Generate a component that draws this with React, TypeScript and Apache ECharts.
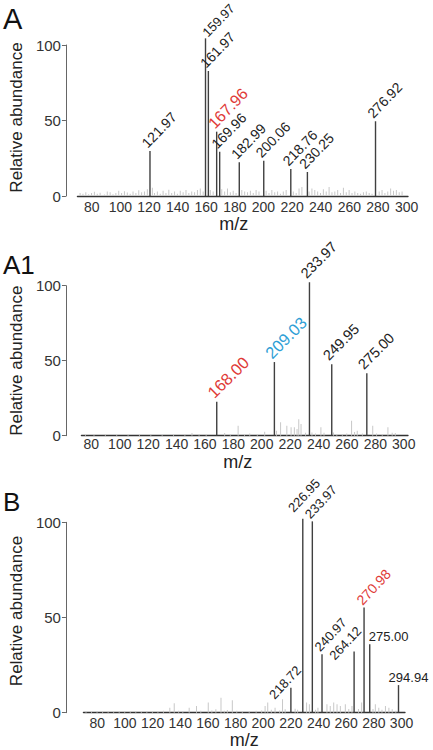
import React, { useEffect, useRef } from "react";
import * as echarts from "echarts";

const FONT = "'Liberation Sans', Arial, Helvetica, sans-serif";

// Shared axis ticks
const xTickValues = [80, 100, 120, 140, 160, 180, 200, 220, 240, 260, 280, 300];
const yInterval = 50;

// ---------- Panel A ----------
const aPeakMz = [120.7, 159.5, 161.5, 167.3, 169.4, 183.1, 200.2, 219.1, 230.7, 278.3];
const aPeakAbund = [29.8, 104.4, 82.8, 42.6, 29.3, 22.3, 23.4, 17.9, 15.9, 49.5];
const aPeakLabels = ["121.97", "159.97", "161.97", "167.96", "169.96", "182.99", "200.06", "218.76", "230.25", "276.92"];
const aHighlightRed = ["167.96"];
const aNoise: [number, number][] = [
  [72, 2], [74, 1.5], [76, 2.5], [78, 1.2], [80, 2], [82, 2.8], [84, 1.5], [86, 2.2],
  [89, 1], [91, 3], [93, 2.5], [95, 1.2], [97, 2], [99, 3.5], [101, 2], [103, 3.2],
  [105, 2.4], [107, 1.5], [109, 3], [111, 2], [113, 3.8], [115, 2.5], [117, 3], [119, 4.5],
  [122.5, 5.5], [124, 2], [126, 3], [128, 1.5], [130, 3.5], [132, 2], [134, 4.2], [136, 2],
  [138, 3], [140, 1.5], [142, 3.5], [144, 2.5], [146, 4], [148, 2], [150, 3], [152, 2.5],
  [154, 4], [156, 5], [158, 3], [163, 4], [165, 3], [171, 4.5], [173, 3], [175, 5],
  [177, 2.5], [179, 3.5], [181, 2], [185, 4], [187, 3], [189, 2.5], [191, 3.5], [193, 2],
  [195, 4], [197, 3], [202, 3.5], [204, 2], [206, 4], [208, 2.5], [210, 3], [212, 1.5],
  [214, 3], [216, 4], [221, 3], [223, 2], [225, 5], [227, 6], [232, 3], [234, 5],
  [236, 4], [238, 3], [240, 2], [242, 4.5], [244, 3], [246, 6], [248, 2.5], [250, 3],
  [252, 4], [254, 2], [256, 5.5], [258, 2.5], [260, 4], [262, 2], [264, 3], [266, 2],
  [268, 1.5], [270, 2.5], [272, 3], [274, 2], [276, 1.5], [281, 3], [283, 4], [285, 2],
  [287, 3], [289, 5], [291, 3.5], [293, 4], [295, 2.5], [297, 3],
];

// ---------- Panel A1 ----------
const a1PeakMz = [168.3, 208.9, 233.6, 249.3, 274.0];
const a1PeakAbund = [22.7, 49.1, 102.3, 47.6, 41.6];
const a1PeakLabels = ["168.00", "209.03", "233.97", "249.95", "275.00"];
const a1HighlightRed = ["168.00"];
const a1HighlightBlue = ["209.03"];
const a1Noise: [number, number][] = [
  [76, 0.6], [82, 0.5], [90, 0.7], [98, 0.5], [106, 0.6], [114, 0.5], [122, 0.6], [130, 0.5],
  [138, 0.7], [146, 1.2], [151, 1.8], [156, 1.0], [161, 1.2], [174, 1.8], [178, 0.8], [183.5, 6.7],
  [188, 1], [191.7, 1.5], [197, 1.2], [202.2, 2.7], [210.5, 3.3], [213.4, 9], [217.8, 6.7], [220.8, 5.6],
  [223.1, 5.6], [225, 4.5], [226.2, 11], [227.8, 7.8], [231, 2], [235.5, 2.2], [238, 1.5], [241.8, 5.6],
  [244, 2], [250.6, 2.2], [253, 1.2], [256.9, 1.1], [260, 1.5], [263.4, 10], [265.5, 2.5], [267.4, 3.3],
  [271, 1.5], [278.3, 6.7], [281, 1.5], [285, 1.2], [289, 5.6], [292, 2], [294.2, 1.8],
];

// ---------- Panel B ----------
const bPeakMz = [220.0, 228.6, 235.5, 242.5, 265.7, 272.9, 277.0, 297.8];
const bPeakAbund = [13.1, 101.8, 100.5, 30.7, 32.2, 55.2, 36.0, 14.5];
const bPeakLabels = ["218.72", "226.95", "233.97", "240.97", "264.12", "270.98", "275.00", "294.94"];
const bHighlightRed = ["270.98"];
const bNoise: [number, number][] = [
  [72, 0.6], [76, 0.5], [80, 0.8], [84, 0.5], [88, 0.7], [92, 0.5], [96, 0.6], [100, 0.8],
  [104, 0.5], [108, 0.6], [112, 0.5], [116, 0.7], [120, 0.6], [124, 0.8], [128, 1.0], [132.6, 2.6],
  [135.8, 4.9], [139, 1], [142, 0.8], [146.6, 2.6], [151.9, 3.5], [155, 1], [160.4, 5.3], [163, 1.2],
  [165.9, 1.8], [169.6, 7.9], [172, 1], [174.2, 1.4], [177.8, 6.6], [181, 1], [185, 0.8], [190, 0.7],
  [195, 1], [199, 1.2], [201.5, 3.5], [203.4, 5.3], [206, 1.5], [208.7, 2.6], [212, 1.2], [214.1, 7],
  [216, 1.8], [223.2, 2.1], [225, 1.5], [231.5, 5.3], [233.5, 4.4], [238, 1.5], [239.7, 2.6], [246.2, 4.4],
  [248.6, 3.5], [251.1, 5.3], [253.5, 4.4], [255.9, 3.5], [259.5, 4.4], [262, 2], [264.3, 3.5], [269, 2],
  [271.3, 5.3], [279.5, 2], [281.2, 4.4], [283.7, 2.6], [286, 1.5], [288.5, 3.5], [291, 2.6], [293.4, 1.8],
  [296, 1],
];

const RED = "#e03a37";
const BLUE = "#2f9fd6";
const TEXT = "#222";

type PanelCfg = {
  grid: { left: number; top: number; width: number; height: number };
  xMin: number;
  xMax: number;
  yOffset: number;
  xLabelMargin: number;
  xNameGap: number;
  xNamePadRight: number;
  yNamePadLeft: number;
  peakMz: number[];
  peakAbund: number[];
  peakLabels: string[];
  noise: [number, number][];
  rotate: number;
  labelOffset: number[];
  labelSize: number;
  colored: Record<string, string>;
  coloredSize: number;
  overrides: Record<string, any>;
};

function buildPanel(i: number, c: PanelCfg) {
  const grid = { ...c.grid, containLabel: false };
  const xAxis = {
    type: "value",
    gridIndex: i,
    min: c.xMin,
    max: c.xMax,
    axisLine: { show: true, onZero: false, lineStyle: { color: "#333", width: 1.3 } },
    axisTick: { show: false },
    splitLine: { show: false },
    axisLabel: {
      customValues: xTickValues,
      margin: c.xLabelMargin,
      fontSize: 14,
      color: "#333",
      fontFamily: FONT,
    },
    name: "m/z",
    nameLocation: "middle",
    nameGap: c.xNameGap,
    nameTextStyle: { fontSize: 18, color: TEXT, fontFamily: FONT, padding: [0, c.xNamePadRight, 0, 0] },
  };
  const yAxis = {
    type: "value",
    gridIndex: i,
    min: 0,
    max: 100,
    interval: yInterval,
    offset: c.yOffset,
    axisLine: { show: true, lineStyle: { color: "#666", width: 1 } },
    axisTick: { show: true, length: 4, lineStyle: { color: "#666" } },
    splitLine: { show: false },
    axisLabel: { margin: 5, fontSize: 15, color: "#333", fontFamily: FONT },
    name: "Relative abundance",
    nameLocation: "middle",
    nameGap: 25,
    nameRotate: 90,
    nameTextStyle: { fontSize: 17, color: TEXT, fontFamily: FONT, padding: [0, 0, 0, c.yNamePadLeft] },
  };
  const noiseSeries = {
    type: "bar",
    xAxisIndex: i,
    yAxisIndex: i,
    data: c.noise.map((d) => [d[0], d[1]]),
    barWidth: 1,
    barGap: "-100%",
    itemStyle: { color: "#c8c8c8" },
    silent: true,
    clip: false,
    z: 1,
  };
  const peakSeries = {
    type: "bar",
    xAxisIndex: i,
    yAxisIndex: i,
    barWidth: 1.4,
    barGap: "-100%",
    clip: false,
    z: 2,
    itemStyle: { color: "#404040" },
    label: {
      show: true,
      position: "top",
      rotate: c.rotate,
      align: "left",
      verticalAlign: "middle",
      distance: 3,
      offset: c.labelOffset,
      fontSize: c.labelSize,
      color: TEXT,
      fontFamily: FONT,
      formatter: (p: any) => c.peakLabels[p.dataIndex],
    },
    data: c.peakMz.map((mz, j) => {
      const lbl = c.peakLabels[j];
      const label: any = { ...(c.overrides[lbl] || {}) };
      if (c.colored[lbl]) {
        label.color = c.colored[lbl];
        label.fontSize = c.coloredSize;
      }
      return { value: [mz, c.peakAbund[j]], label };
    }),
  };
  return { grid, xAxis, yAxis, series: [noiseSeries, peakSeries] };
}

function colorMap(red: string[], blue: string[] = []) {
  const m: Record<string, string> = {};
  red.forEach((r) => (m[r] = RED));
  blue.forEach((b) => (m[b] = BLUE));
  return m;
}

export default function App() {
  const ref = useRef<HTMLDivElement>(null);
  useEffect(() => {
    if (!ref.current) return;
    const chart = echarts.init(ref.current, null, { renderer: "svg" });
    const panels = [
      buildPanel(0, {
        grid: { left: 76, top: 45, width: 332, height: 151 },
        xMin: 70,
        xMax: 301,
        yOffset: 11.5,
        xLabelMargin: 4,
        xNameGap: 16,
        xNamePadRight: 18,
        yNamePadLeft: 6,
        peakMz: aPeakMz,
        peakAbund: aPeakAbund,
        peakLabels: aPeakLabels,
        noise: aNoise,
        rotate: 46,
        labelOffset: [-2, -6],
        labelSize: 14,
        colored: colorMap(aHighlightRed),
        coloredSize: 16,
        overrides: {
          "159.97": { offset: [0, -1], fontSize: 13 },
        },
      }),
      buildPanel(1, {
        grid: { left: 80, top: 285.7, width: 328, height: 150 },
        xMin: 73,
        xMax: 303,
        yOffset: 15.5,
        xLabelMargin: 1,
        xNameGap: 17,
        xNamePadRight: 14,
        yNamePadLeft: 0,
        peakMz: a1PeakMz,
        peakAbund: a1PeakAbund,
        peakLabels: a1PeakLabels,
        noise: a1Noise,
        rotate: 45,
        labelOffset: [-2, -7],
        labelSize: 14.5,
        colored: colorMap(a1HighlightRed, a1HighlightBlue),
        coloredSize: 16.5,
        overrides: {},
      }),
      buildPanel(2, {
        grid: { left: 82, top: 522.3, width: 323, height: 190.4 },
        xMin: 70,
        xMax: 302.5,
        yOffset: 17.5,
        xLabelMargin: 3,
        xNameGap: 12,
        xNamePadRight: 0,
        yNamePadLeft: 13,
        peakMz: bPeakMz,
        peakAbund: bPeakAbund,
        peakLabels: bPeakLabels,
        noise: bNoise,
        rotate: 47,
        labelOffset: [-2, -5],
        labelSize: 13,
        colored: colorMap(bHighlightRed),
        coloredSize: 14,
        overrides: {
          "218.72": { align: "center", distance: 0, offset: [0, -8] },
          "226.95": { offset: [-4, -13] },
          "264.12": { align: "center", distance: 0, offset: [0, -12] },
          "275.00": { rotate: 0, align: "left", verticalAlign: "bottom", distance: 1, offset: [-1, 0] },
          "294.94": { rotate: 0, align: "center", verticalAlign: "bottom", distance: 1, offset: [10, 0] },
        },
      }),
    ];
    const letterStyle = (text: string, x: number, y: number, size: number) => ({
      type: "text",
      silent: true,
      style: {
        text,
        x,
        y,
        fontSize: size,
        fontFamily: FONT,
        fill: "#111",
        align: "left",
        verticalAlign: "middle",
      },
    });
    chart.setOption({
      animation: false,
      backgroundColor: "#fff",
      textStyle: { fontFamily: FONT },
      grid: panels.map((p) => p.grid),
      xAxis: panels.map((p) => p.xAxis),
      yAxis: panels.map((p) => p.yAxis),
      series: panels.flatMap((p) => p.series),
      graphic: [
        letterStyle("A", 3, 18.5, 29),
        letterStyle("A1", 3, 264.5, 26),
        letterStyle("B", 3, 501.5, 26),
      ],
    } as any);
    return () => chart.dispose();
  }, []);
  return (
    <div
      ref={ref}
      style={{ position: "absolute", left: 0, top: 0, width: 433, height: 750, background: "#fff" }}
    />
  );
}
